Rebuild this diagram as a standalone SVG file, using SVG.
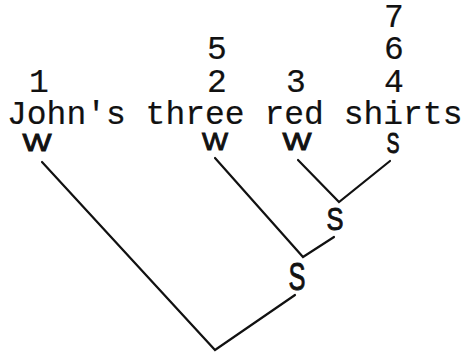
<svg xmlns="http://www.w3.org/2000/svg" width="466" height="355" viewBox="0 0 466 355">
<style>
.mono{font-family:"Courier New","Liberation Mono",monospace;font-size:33px;fill:#111;stroke:#111;stroke-width:0.2px}
.num{text-anchor:middle}
.hand{font-family:"Liberation Sans","DejaVu Sans",sans-serif;fill:#111;stroke:#111;stroke-width:0.9px;text-anchor:middle}
.edge{fill:none;stroke:#111;stroke-width:2.2;stroke-linecap:round;stroke-linejoin:miter}
</style>
<rect width="466" height="355" fill="#fff"/>
<g id="sentence">
<text class="mono" x="7" y="124">John's three red shirts</text>
</g>
<g id="numbers">
<text class="mono num" x="39" y="92">1</text>
<text class="mono num" x="217" y="59">5</text>
<text class="mono num" x="217" y="92">2</text>
<text class="mono num" x="296" y="92">3</text>
<text class="mono num" x="394" y="27">7</text>
<text class="mono num" x="394" y="59">6</text>
<text class="mono num" x="394" y="92">4</text>
</g>
<g id="w-johns"><text class="hand" x="37" y="151" font-size="24" textLength="29" lengthAdjust="spacingAndGlyphs">W</text></g>
<g id="w-three"><text class="hand" x="215" y="150" font-size="24" textLength="26" lengthAdjust="spacingAndGlyphs">W</text></g>
<g id="w-red"><text class="hand" x="297" y="150" font-size="24" textLength="29" lengthAdjust="spacingAndGlyphs">W</text></g>
<g id="s-shirts"><text class="hand" x="393" y="153" font-size="29" textLength="13" lengthAdjust="spacingAndGlyphs">S</text></g>
<g id="s-mid"><text class="hand" x="335" y="230" font-size="31" textLength="17" lengthAdjust="spacingAndGlyphs">S</text></g>
<g id="s-low"><text class="hand" x="297" y="290" font-size="39" textLength="17" lengthAdjust="spacingAndGlyphs">S</text></g>
<g id="connectors">
<polyline class="edge" points="298,160 339,202 390,161"/>
<polyline class="edge" points="215,158 303,257 334,237"/>
<polyline class="edge" points="42,162 215,350 295,295"/>
</g>
</svg>
